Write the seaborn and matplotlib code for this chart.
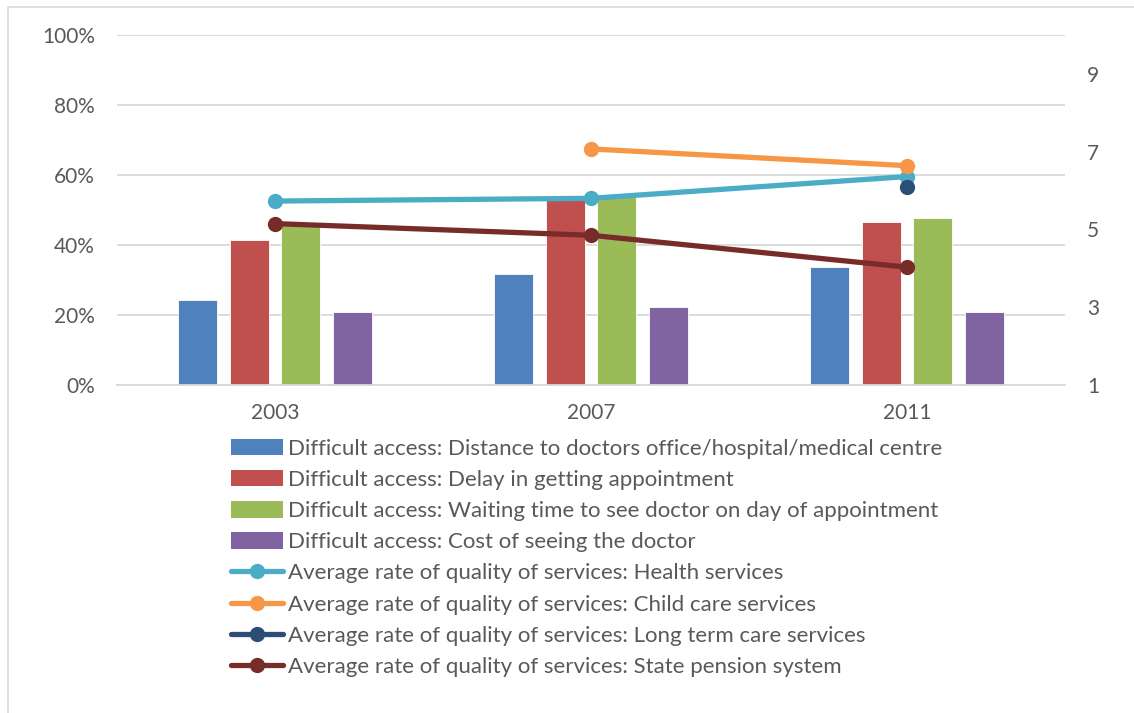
import pandas as pd
import numpy as np
import matplotlib
matplotlib.use("Agg")
import matplotlib.pyplot as plt
from matplotlib.lines import Line2D
from matplotlib.patches import Patch, Rectangle
from matplotlib.ticker import PercentFormatter
import seaborn as sns

years = ["2003", "2007", "2011"]

bar_labels = [
    "Difficult access: Distance to doctors office/hospital/medical centre",
    "Difficult access: Delay in getting appointment",
    "Difficult access: Waiting time to see doctor on day of appointment",
    "Difficult access: Cost of seeing the doctor",
]
distance = [0.243, 0.317, 0.338]
delay = [0.414, 0.529, 0.465]
waiting = [0.464, 0.538, 0.476]
cost = [0.209, 0.224, 0.210]

line_labels = [
    "Average rate of quality of services: Health services",
    "Average rate of quality of services: Child care services",
    "Average rate of quality of services: Long term care services",
    "Average rate of quality of services: State pension system",
]
health = [5.73, 5.80, 6.36]
child_care = [np.nan, 7.07, 6.64]
long_term = [np.nan, np.nan, 6.10]
pension = [5.15, 4.85, 4.03]

bar_colors = ["#4F81BD", "#C0504D", "#9BBB59", "#8064A2"]
line_colors = ["#4BACC6", "#F79646", "#2C4D75", "#772C2A"]

sns.set_theme(style="white")
plt.rcParams['font.family'] = ['Lato', 'DejaVu Sans']
grey_text = "#595959"
grid_col = "#D9D9D9"

# long format for the bars
rows = []
for lab, vals in zip(bar_labels, [distance, delay, waiting, cost]):
    for y, v in zip(years, vals):
        rows.append({"Year": y, "Series": lab, "Value": v})
bars_df = pd.DataFrame(rows)

fig = plt.figure(figsize=(11.34, 7.13), dpi=100)
ax = fig.add_axes([117 / 1134, 1 - 385 / 713, (1065 - 117) / 1134, (385 - 35) / 713])

ax.yaxis.grid(True, color=grid_col, linewidth=1.3)
ax.set_axisbelow(True)
sns.barplot(data=bars_df, x="Year", y="Value", hue="Series", order=years,
            hue_order=bar_labels, palette=bar_colors, width=0.652, gap=0.245,
            saturation=1, legend=False, ax=ax, edgecolor="white", linewidth=0.6)
ax.set_ylim(0, 1.0)
ax.set_yticks(np.arange(0, 1.01, 0.2))
ax.yaxis.set_major_formatter(PercentFormatter(1.0, decimals=0))
ax.set_xlim(-0.5, 2.5)
ax.set_xlabel("")
ax.set_ylabel("")
for s in ["top", "right", "left"]:
    ax.spines[s].set_visible(False)
ax.spines["bottom"].set_color(grid_col)
ax.spines["bottom"].set_linewidth(1.3)
ax.tick_params(axis="both", length=0, labelsize=15, colors=grey_text)
ax.tick_params(axis="x", pad=13)
ax.tick_params(axis="y", pad=16)

ax2 = ax.twinx()
xpos = np.arange(len(years))
for lab, vals, col in zip(line_labels, [health, child_care, long_term, pension], line_colors):
    d = pd.DataFrame({"x": xpos, "y": vals}).dropna()
    sns.lineplot(data=d, x="x", y="y", color=col, linewidth=3.8, marker="o",
                 markersize=11, markeredgewidth=0, ax=ax2)
ax2.set_ylim(1, 10)
ax2.set_yticks([1, 3, 5, 7, 9])
ax2.set_xlim(-0.5, 2.5)
ax2.set_ylabel("")
ax2.set_xlabel("")
for s in ["top", "right", "left", "bottom"]:
    ax2.spines[s].set_visible(False)
ax2.tick_params(axis="y", length=0, labelsize=15, colors=grey_text, pad=16)

handles = [Patch(facecolor=c, edgecolor="none") for c in bar_colors]
handles += [Line2D([0], [0], color=c, linewidth=3.8, marker="o", markersize=11,
                   markeredgewidth=0) for c in line_colors]
leg = fig.legend(handles, bar_labels + line_labels, loc="upper left",
                 bbox_to_anchor=(231 / 1134, 1 - 439 / 713), frameon=False,
                 fontsize=16, handlelength=2.35, handleheight=0.75,
                 handletextpad=0.2, labelspacing=0.5, borderaxespad=0,
                 borderpad=0)
for t in leg.get_texts():
    t.set_color(grey_text)

# chart border
fig.patches.append(Rectangle((8 / 1134, -0.05), 1.2, 1 - 7 / 713 + 0.05,
                             transform=fig.transFigure, fill=False,
                             edgecolor=grid_col, linewidth=1.2))

fig.savefig("out.png", dpi=100)
